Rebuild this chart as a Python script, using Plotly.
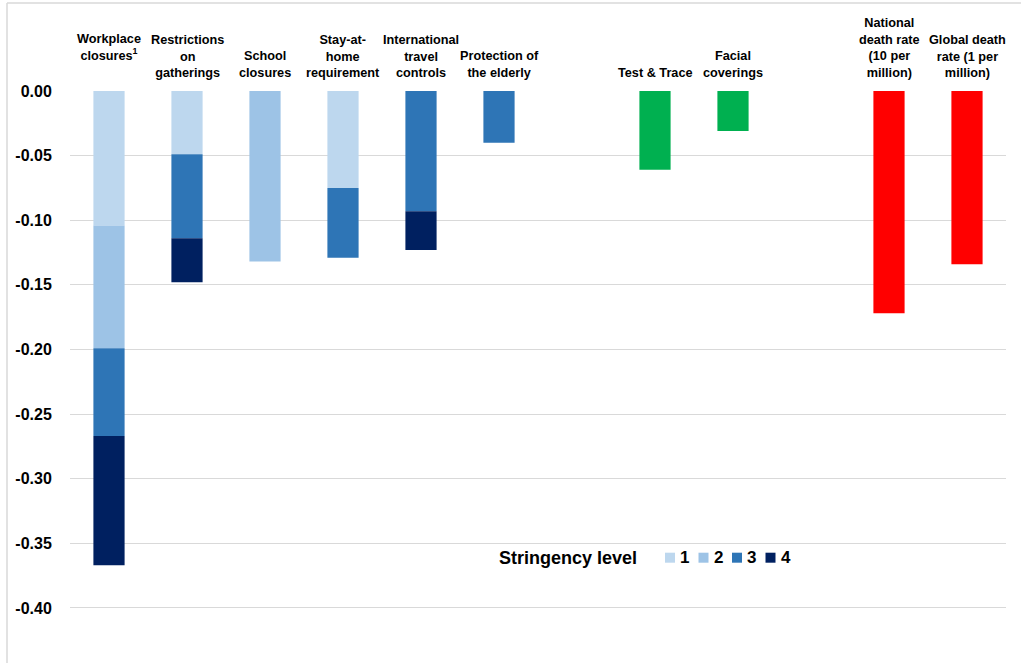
import plotly.graph_objects as go

# ---- data ----
cat_ids = ["work", "gather", "school", "stay", "travel", "elderly", "gap1",
           "test", "face", "gap2", "natdeath", "globdeath"]
cat_labels = ["Workplace<br>closures<sup>1</sup>", "Restrictions<br>on<br>gatherings",
              "School<br>closures", "Stay-at-<br>home<br>requirement",
              "International<br>travel<br>controls", "Protection of<br>the elderly", "",
              "Test & Trace", "Facial<br>coverings", "",
              "National<br>death rate<br>(10 per<br>million)",
              "Global death<br>rate (1 per<br>million)"]
# the workplace label sits one text line higher than the others
label_raise = [17, 0, 0, 0, 0, 0, 0, 0, 0, 0, 0, 0]

policy_cats = ["work", "gather", "school", "stay", "travel", "elderly"]
level1 = [-0.104, -0.049, None, -0.075, None, None]
level2 = [-0.095, None, -0.132, None, None, None]
level3 = [-0.068, -0.065, None, -0.054, -0.093, -0.040]
level4 = [-0.100, -0.034, None, None, -0.030, None]

green_cats = ["test", "face"]
green_vals = [-0.061, -0.031]
red_cats = ["natdeath", "globdeath"]
red_vals = [-0.172, -0.134]

level_names = ["1", "2", "3", "4"]
level_colors = ["#BDD7EE", "#9DC3E6", "#2E75B6", "#002060"]
legend_title = "Stringency level"

ytick_vals = [0.0, -0.05, -0.10, -0.15, -0.20, -0.25, -0.30, -0.35, -0.40]

FONT = "Liberation Sans, Arial, sans-serif"

# plot area geometry (px) used to place the hand-made legend
W, H = 1021, 663
ML, MR, MT, MB = 70, 15, 91, 14
PW, PH = W - ML - MR, H - MT - MB


def px_x(p):
    return (p - ML) / PW


def px_y(p):
    return (H - MB - p) / PH


fig = go.Figure()
for name, vals, col in zip(level_names, [level1, level2, level3, level4], level_colors):
    fig.add_trace(go.Bar(x=policy_cats, y=vals, name=name, marker_color=col,
                         marker_line_width=0, width=0.4, showlegend=False))
fig.add_trace(go.Bar(x=green_cats, y=green_vals, marker_color="#00B050",
                     marker_line_width=0, width=0.4, showlegend=False))
fig.add_trace(go.Bar(x=red_cats, y=red_vals, marker_color="#FF0000",
                     marker_line_width=0, width=0.4, showlegend=False))

annotations = []
for cid, lab, rz in zip(cat_ids, cat_labels, label_raise):
    if lab:
        annotations.append(dict(x=cid, xref="x", y=1, yref="paper", yanchor="bottom",
                                xanchor="center", text="<b>" + lab + "</b>",
                                showarrow=False, yshift=9 + rz,
                                font=dict(family=FONT, size=12.7, color="#000000")))

# legend (title + swatches + labels)
leg_cy = 557.7
annotations.append(dict(x=px_x(497), xref="paper", y=px_y(leg_cy), yref="paper",
                        xanchor="left", yanchor="middle", showarrow=False,
                        text="<b>" + legend_title + "</b>",
                        font=dict(family=FONT, size=18, color="#000000")))
shapes = []
sw0, step = 665, 33.5
for i, (name, col) in enumerate(zip(level_names, level_colors)):
    x0 = sw0 + i * step
    shapes.append(dict(type="rect", xref="paper", yref="paper",
                       x0=px_x(x0), x1=px_x(x0 + 10),
                       y0=px_y(leg_cy + 5), y1=px_y(leg_cy - 5),
                       fillcolor=col, line=dict(width=0)))
    annotations.append(dict(x=px_x(x0 + 13), xref="paper", y=px_y(leg_cy), yref="paper",
                            xanchor="left", yanchor="middle", showarrow=False,
                            text="<b>" + name + "</b>",
                            font=dict(family=FONT, size=17, color="#000000")))

# outer frame
shapes += [
    dict(type="line", xref="paper", yref="paper", x0=px_x(7), x1=px_x(7),
         y0=px_y(H + 2), y1=px_y(3), line=dict(color="#D9D9D9", width=1.5)),
    dict(type="line", xref="paper", yref="paper", x0=px_x(7), x1=px_x(W + 2),
         y0=px_y(3), y1=px_y(3), line=dict(color="#D9D9D9", width=1.5)),
]

fig.update_layout(
    width=W, height=H,
    margin=dict(l=ML, r=MR, t=MT, b=MB),
    paper_bgcolor="white", plot_bgcolor="white",
    barmode="relative",
    showlegend=False,
    font=dict(family=FONT, color="#000000"),
    annotations=annotations,
    shapes=shapes,
)
fig.update_xaxes(type="category", categoryorder="array", categoryarray=cat_ids,
                 range=[-0.5, len(cat_ids) - 0.5], showticklabels=False,
                 showgrid=False, zeroline=False, showline=False, ticks="")
fig.update_yaxes(range=[-0.4318, 0.0], tickvals=ytick_vals,
                 ticktext=["<b>%.2f</b>" % abs(v) if v == 0 else "<b>%.2f</b>" % v
                           for v in ytick_vals],
                 showgrid=True, gridcolor="#D9D9D9", gridwidth=1,
                 zeroline=False, showline=False,
                 ticks="outside", ticklen=14, tickcolor="rgba(0,0,0,0)",
                 tickfont=dict(family=FONT, size=16, color="#000000"))

fig.write_html("out.html", config={"displayModeBar": False},
               post_script="document.body.style.margin='0px';")
